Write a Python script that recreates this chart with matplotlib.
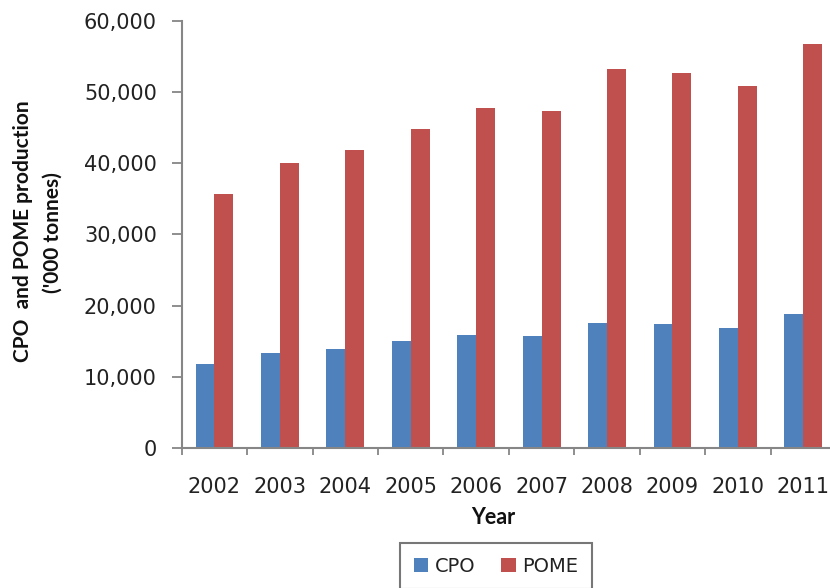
import matplotlib
matplotlib.use("Agg")
import matplotlib.pyplot as plt
import numpy as np
from matplotlib.ticker import FuncFormatter, FixedLocator

# data ('000 tonnes)
years = ["2002", "2003", "2004", "2005", "2006", "2007", "2008", "2009", "2010", "2011"]
cpo = [11800, 13400, 14000, 15000, 15900, 15700, 17600, 17400, 16900, 18800]
pome = [35700, 40100, 41900, 44800, 47700, 47300, 53200, 52700, 50900, 56700]

blue = "#4F81BD"
red = "#C0504D"
axis_grey = "#868686"

fig = plt.figure(figsize=(8.3, 5.88), dpi=100)
# the original is cropped on the right, so the axes run slightly past the edge
ax = fig.add_axes([0.219, 0.2376, 0.7883, 0.7272])

x = np.arange(len(years))
w = 0.29
ax.bar(x - w / 2, cpo, width=w, color=blue, label="CPO")
ax.bar(x + w / 2, pome, width=w, color=red, label="POME")

ax.set_xlim(-0.5, len(years) - 0.5)
ax.set_ylim(0, 60000)
ax.set_yticks(np.arange(0, 60001, 10000))
ax.yaxis.set_major_formatter(FuncFormatter(lambda v, p: "{:,.0f}".format(v)))

# ticks between the groups, labels at group centres
ax.xaxis.set_major_locator(FixedLocator(np.arange(-0.5, len(years), 1.0)))
ax.xaxis.set_minor_locator(FixedLocator(x))
ax.set_xticklabels([], minor=False)
ax.set_xticklabels(years, minor=True)
ax.tick_params(axis="x", which="major", direction="out", length=5, width=1.3, color=axis_grey)
ax.tick_params(axis="x", which="minor", length=0, pad=21, labelsize=15, labelcolor="#222222")
ax.tick_params(axis="y", direction="out", length=7, width=1.3, color=axis_grey,
               pad=11, labelsize=15, labelcolor="#222222")

for s in ["top", "right"]:
    ax.spines[s].set_visible(False)
for s in ["left", "bottom"]:
    ax.spines[s].set_color(axis_grey)
    ax.spines[s].set_linewidth(1.5)

# y label, two lines placed by hand like the original
lab = dict(family="Lato", weight="bold", fontsize=15, color="#111111",
           rotation=90, ha="center", va="center")
fig.text(23 / 830, 1 - 231 / 588, "CPO  and POME production", **lab)
fig.text(53 / 830, 1 - 233 / 588, "('000 tonnes)", **lab)

ax.set_xlabel("Year", fontfamily="Lato", fontweight="bold", fontsize=15.5, color="#111111",
              va="center")
ax.xaxis.set_label_coords(0.476, -0.163)

leg = fig.legend(loc="upper center", bbox_to_anchor=(496 / 830, 1 - 543 / 588),
                 ncol=2, fontsize=14, frameon=True, fancybox=False,
                 handlelength=0.75, handleheight=0.75, handletextpad=0.35,
                 columnspacing=1.3, borderpad=0.7, borderaxespad=0)
leg.get_frame().set_edgecolor("#555555")
leg.get_frame().set_linewidth(1.5)
for t in leg.get_texts():
    t.set_color("#222222")

fig.savefig("out.png", dpi=100)
